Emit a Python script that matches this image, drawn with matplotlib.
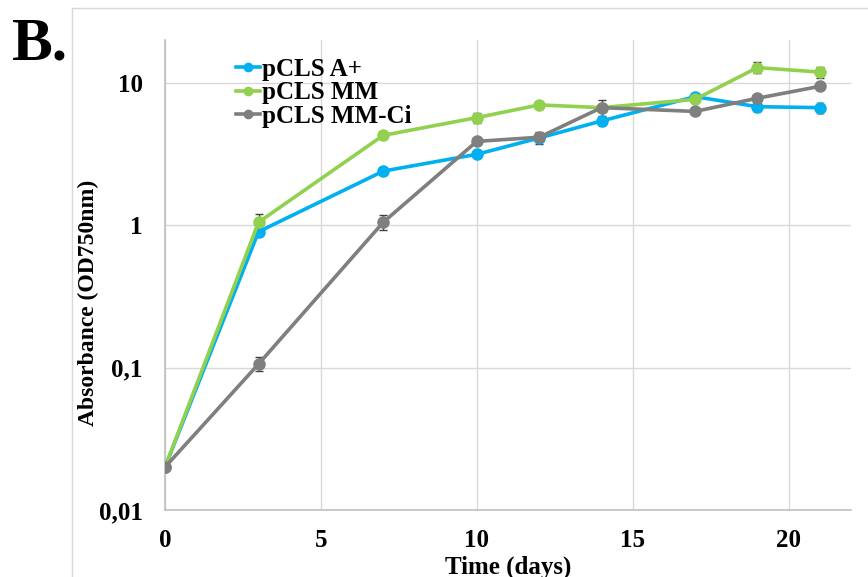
import matplotlib
matplotlib.use("Agg")
import matplotlib.pyplot as plt
from matplotlib.lines import Line2D

days = [0, 3, 7, 10, 12, 14, 17, 19, 21]
a_plus = [0.02, 0.90, 2.40, 3.15, 4.10, 5.40, 8.00, 6.80, 6.70]
a_plus_err = [0.0, 0.06, 0.12, 0.15, 0.25, 0.45, 0.50, 0.55, 0.65]
mm = [0.02, 1.05, 4.28, 5.70, 7.00, 6.70, 7.66, 12.8, 11.9]
mm_err = [0.0, 0.14, 0.20, 0.45, 0.25, 0.35, 0.40, 1.10, 1.00]
mm_ci = [0.02, 0.106, 1.05, 3.88, 4.15, 6.70, 6.30, 7.80, 9.45]
mm_ci_err = [0.0, 0.012, 0.13, 0.15, 0.40, 0.85, 0.30, 0.25, 0.30]

labels = ["pCLS A+", "pCLS MM", "pCLS MM-Ci"]
colors = ["#00B0F0", "#92D050", "#7F7F7F"]
err_colors = ["#F4B183", "#404040", "#404040"]
x_ticks = [0, 5, 10, 15, 20]
y_ticks = [0.01, 0.1, 1, 10]
y_tick_labels = ["0,01", "0,1", "1", "10"]

serif = "Liberation Serif"

fig = plt.figure(figsize=(8.68, 5.77), dpi=100)
ax = fig.add_axes([165/868, 1-510/577, (851-165)/868, (510-40)/577])

series = [(a_plus, a_plus_err), (mm, mm_err), (mm_ci, mm_ci_err)]
for (vals, errs), col, ecol, lab in zip(series, colors, err_colors, labels):
    ax.errorbar(days, vals, yerr=errs, fmt="none", ecolor=ecol, elinewidth=1.0,
                capsize=3, capthick=1.0, zorder=2)
    ax.plot(days, vals, color=col, lw=2.6, marker="o", ms=8, label=lab, zorder=3)

ax.set_yscale("log")
ax.set_xlim(0, 22)
ax.set_ylim(0.01, 20)
ax.set_xticks(x_ticks)
ax.set_xticklabels([str(t) for t in x_ticks])
ax.set_yticks(y_ticks)
ax.set_yticklabels(y_tick_labels)
ax.yaxis.set_minor_locator(matplotlib.ticker.NullLocator())
ax.tick_params(axis="both", length=0, labelsize=18)
ax.tick_params(axis="x", pad=14)
ax.tick_params(axis="y", pad=16)
for lbl in ax.get_xticklabels() + ax.get_yticklabels():
    lbl.set_fontfamily(serif)
    lbl.set_fontweight("bold")

ax.grid(True, which="major", color="#D9D9D9", lw=1.0)
ax.set_axisbelow(True)
for s in ["top", "right"]:
    ax.spines[s].set_visible(False)
for s in ["left", "bottom"]:
    ax.spines[s].set_color("#BFBFBF")
    ax.spines[s].set_linewidth(1.2)

ax.set_xlabel("Time (days)", fontfamily=serif, fontweight="bold", fontsize=18, labelpad=2)
ax.set_ylabel("Absorbance (OD750nm)", fontfamily=serif, fontweight="bold", fontsize=17)
ax.yaxis.set_label_coords(-0.096, 0.44)

leg = ax.legend(loc="upper left", bbox_to_anchor=(0.089, 0.983), frameon=False,
                prop={"family": serif, "weight": "bold", "size": 18},
                handlelength=0.95, handletextpad=0.1, labelspacing=0.02, borderaxespad=0)
for h in leg.legend_handles:
    h.set_markersize(6)

fig.text(12/868, 1-44/577, "B.", fontfamily=serif, fontweight="bold", fontsize=44,
         va="center", ha="left")

# faint outer frame
fig.add_artist(Line2D([72/868, 72/868], [0, 1-8/577], transform=fig.transFigure,
                      color="#D9D9D9", lw=1.0))
fig.add_artist(Line2D([72/868, 1], [1-8/577, 1-8/577], transform=fig.transFigure,
                      color="#D9D9D9", lw=1.0))

fig.savefig("out.png", dpi=100)
